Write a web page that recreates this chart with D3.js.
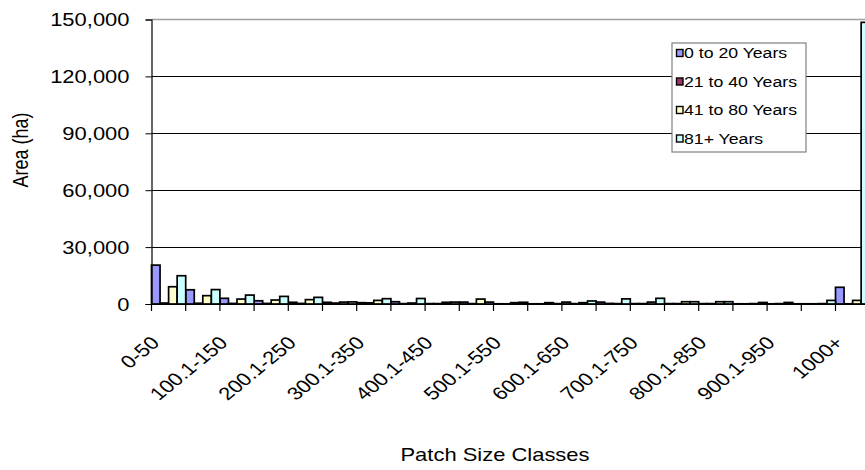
<!DOCTYPE html>
<html>
<head>
<meta charset="utf-8">
<script src="https://cdn.jsdelivr.net/npm/d3@7"></script>
<style>
  html, body { margin: 0; padding: 0; background: #fff; }
  svg { display: block; }
  text { font-family: "Liberation Sans", Arial, sans-serif; fill: #000; }
</style>
</head>
<body>
<div id="chart"></div>
<script>
const categories = ["0-50","50.1-100","100.1-150","150.1-200","200.1-250","250.1-300","300.1-350","350.1-400","400.1-450","450.1-500","500.1-550","550.1-600","600.1-650","650.1-700","700.1-750","750.1-800","800.1-850","850.1-900","900.1-950","950.1-1000","1000+"];
const seriesNames = ["0 to 20 Years","21 to 40 Years","41 to 80 Years","81+ Years"];
const years0to20  = [20500,7500,3000,1700,900,900,700,1200,200,1000,100,100,1000,1000,200,200,200,100,100,100,8800];
const years21to40 = [500,400,300,300,300,500,600,200,200,200,100,100,200,300,200,200,200,100,200,100,100];
const years41to80 = [9100,4400,2600,2100,2300,1000,1900,500,900,2600,700,700,700,200,1000,1200,1200,200,800,200,1900];
const years81plus = [14900,7600,4700,4000,3500,1100,2800,2900,1000,1000,900,200,1600,2700,3000,1200,1200,800,100,1900,148500];
const yTicks = [0,30000,60000,90000,120000,150000];
const colors = ["#9999FF","#993366","#FFFFCC","#CCFFFF"];

const W = 865, H = 470;
const SX = 1.22; // horizontal stretch of the text in the picture
const svg = d3.select("#chart").append("svg").attr("width", W).attr("height", H);

const pLeft = 151.5, pTop = 19.5, pBottom = 304, pRight = 151.5 + 21 * 34.2;
const x = d3.scaleBand().domain(categories).range([pLeft, pRight]).paddingInner(0).paddingOuter(0);
const xs = d3.scaleBand().domain(seriesNames).range([0, x.bandwidth()]).padding(0);
const y = d3.scaleLinear().domain([0, 150000]).range([pBottom, pTop]);

// plot border (top, gray)
svg.append("line").attr("x1", pLeft).attr("x2", W).attr("y1", pTop).attr("y2", pTop)
  .attr("stroke", "#a0a0a0").attr("stroke-width", 1.5);

// gridlines
svg.append("g").selectAll("line").data(yTicks.filter(d => d > 0 && d < 150000)).join("line")
  .attr("x1", pLeft).attr("x2", W).attr("y1", d => Math.round(y(d)) + 0.5).attr("y2", d => Math.round(y(d)) + 0.5)
  .attr("stroke", "#000").attr("stroke-width", 1);

// bars
const allSeries = [years0to20, years21to40, years41to80, years81plus];
const g = svg.append("g");
allSeries.forEach((vals, si) => {
  g.append("g").selectAll("rect").data(vals).join("rect")
    .attr("x", (d, i) => x(categories[i]) + xs(seriesNames[si]))
    .attr("y", d => y(d))
    .attr("width", xs.bandwidth())
    .attr("height", d => pBottom - y(d))
    .attr("fill", colors[si])
    .attr("stroke", "#000")
    .attr("stroke-width", 1.7);
});

// y axis
const yAxis = d3.axisLeft(y).tickValues(yTicks).tickSize(6).tickFormat(d3.format(","));
const ya = svg.append("g").attr("transform", `translate(${pLeft},0)`).call(yAxis);
ya.select(".domain").attr("stroke", "#000").attr("stroke-width", 1.2);
ya.selectAll(".tick line").attr("stroke", "#000");
ya.selectAll(".tick text")
  .attr("x", 0).attr("dy", "0.35em")
  .attr("transform", `translate(-22,0) scale(${SX},1)`)
  .style("font-size", "18px").style("font-family", "Liberation Sans, Arial, sans-serif");

// x axis
const xAxis = d3.axisBottom(x).tickSize(0).tickFormat((d, i) => i % 2 === 0 ? d : "");
const xa = svg.append("g").attr("transform", `translate(0,${pBottom})`).call(xAxis);
xa.select(".domain").attr("stroke", "#000").attr("stroke-width", 1.2);
xa.selectAll(".tick text")
  .style("font-size", "18px").style("font-family", "Liberation Sans, Arial, sans-serif")
  .attr("text-anchor", "end")
  .attr("x", 0).attr("y", 0).attr("dy", 0)
  .attr("transform", `translate(-8,40) scale(${SX},1) rotate(-45)`);
// category boundary ticks
svg.append("g").selectAll("line").data(categories).join("line")
  .attr("x1", d => x(d)).attr("x2", d => x(d))
  .attr("y1", pBottom).attr("y2", pBottom + 7)
  .attr("stroke", "#000").attr("stroke-width", 1.2);

// axis titles
svg.append("text").attr("text-anchor", "middle")
  .attr("transform", `translate(495,461) scale(${SX},1)`)
  .style("font-size", "18px").text("Patch Size Classes");
svg.append("text").attr("text-anchor", "middle")
  .attr("transform", `translate(28,150) scale(${SX},1) rotate(-90)`)
  .style("font-size", "18px").text("Area (ha)");

// legend
const lg = svg.append("g");
lg.append("rect").attr("x", 672).attr("y", 43).attr("width", 134).attr("height", 109)
  .attr("fill", "#fff").attr("stroke", "#808080").attr("stroke-width", 1.2);
seriesNames.forEach((name, i) => {
  const cy = 53 + i * 28.5;
  lg.append("rect").attr("x", 676.5).attr("y", cy - 3.5).attr("width", 6.5).attr("height", 7)
    .attr("fill", colors[i]).attr("stroke", "#000").attr("stroke-width", 1.4);
  lg.append("text").attr("dy", "0.36em")
    .attr("transform", `translate(684,${cy}) scale(${SX},1)`)
    .style("font-size", "14.5px").text(name);
});
</script>
</body>
</html>
